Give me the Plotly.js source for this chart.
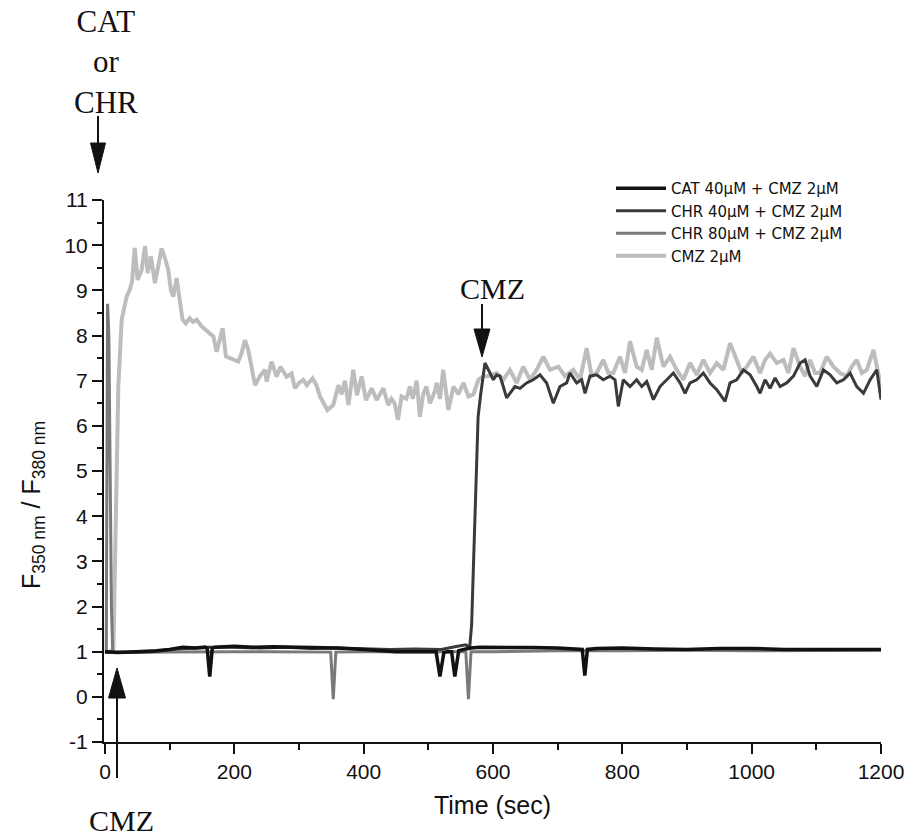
<!DOCTYPE html>
<html>
<head>
<meta charset="utf-8">
<script src="https://cdn.plot.ly/plotly-3.0.1.min.js"></script>
<style>
html,body{margin:0;padding:0;background:#fff;}
#chart{width:913px;height:839px;}
</style>
</head>
<body>
<div id="chart"></div>
<script>
// ---- Data ----
const seriesNames = ["CAT 40μM + CMZ 2μM", "CHR 40μM + CMZ 2μM", "CHR 80μM + CMZ 2μM", "CMZ 2μM"];

const catTime = [0, 20, 40, 60, 80, 100, 120, 140, 155, 158, 162, 166, 170, 200, 230, 260, 300, 330, 360, 400, 430, 450, 470, 490, 505, 512, 518, 524, 530, 536, 541, 547, 555, 565, 580, 600, 630, 660, 700, 730, 738, 742, 746, 760, 800, 850, 900, 950, 1000, 1050, 1100, 1150, 1200];
const catValue = [1.0, 0.98, 0.99, 1.0, 1.02, 1.05, 1.1, 1.08, 1.1, 1.08, 0.45, 1.08, 1.1, 1.12, 1.1, 1.11, 1.1, 1.09, 1.08, 1.05, 1.02, 1.0, 1.0, 1.0, 1.0, 1.0, 0.45, 0.98, 1.0, 1.0, 0.45, 1.02, 1.05, 1.08, 1.1, 1.1, 1.1, 1.09, 1.08, 1.06, 1.05, 0.47, 1.05, 1.07, 1.08, 1.06, 1.05, 1.07, 1.07, 1.05, 1.05, 1.06, 1.05];

const chr40Time = [0, 15, 40, 70, 100, 130, 160, 200, 240, 280, 320, 360, 400, 440, 480, 520, 545, 558, 564, 567, 570, 574, 577, 581, 585, 587.6, 595.4, 600.5, 605.6, 610.8, 615.9, 621.1, 626.2, 634, 641.7, 652, 662.3, 672.7, 683, 693.3, 703.6, 713.9, 719.1, 729.4, 737.1, 742.3, 750, 760.3, 770.6, 780.9, 788.7, 793.8, 801.5, 811.9, 822.2, 830, 837.7, 848, 858.3, 868.6, 879, 889.3, 897, 904.7, 915, 925.3, 935.7, 946, 958.9, 966.6, 976.9, 987.2, 997.5, 1007.9, 1013, 1020.7, 1028.5, 1036.2, 1043.9, 1054.2, 1064.6, 1074.9, 1082.6, 1090.4, 1100.7, 1111, 1121.3, 1131.6, 1141.9, 1152.2, 1162.5, 1172.9, 1183.2, 1193.5, 1200];
const chr40Value = [1.0, 0.98, 0.99, 1.0, 1.05, 1.08, 1.1, 1.1, 1.08, 1.1, 1.07, 1.08, 1.06, 1.05, 1.06, 1.05, 1.12, 1.15, 1.1, 1.6, 3.0, 4.9, 6.2, 6.7, 7.1, 7.39, 7.17, 7.02, 7.13, 7.1, 6.87, 6.62, 6.72, 6.87, 6.83, 6.95, 7.02, 7.13, 6.95, 6.5, 6.87, 6.95, 7.17, 6.95, 7.02, 6.72, 7.1, 7.13, 7.02, 7.1, 7.02, 6.43, 7.02, 6.87, 7.02, 6.87, 6.98, 6.58, 6.87, 7.02, 7.17, 6.95, 6.72, 6.95, 7.02, 7.17, 6.95, 6.8, 6.54, 6.95, 7.02, 7.24, 7.13, 6.87, 6.72, 7.02, 6.83, 7.06, 6.87, 6.95, 7.1, 7.39, 7.46, 7.1, 6.87, 7.24, 7.13, 6.95, 7.02, 7.17, 6.87, 6.72, 7.02, 7.24, 6.58];

const chr80Time = [0, 2, 4, 6, 8, 10, 12, 40, 100, 150, 200, 250, 300, 349, 353, 357, 400, 450, 500, 558, 562, 566, 600, 700, 800, 900, 1000, 1100, 1200];
const chr80Value = [1.0, 1.0, 8.7, 8.0, 5.0, 2.0, 1.0, 0.98, 0.99, 1.0, 1.0, 1.0, 1.0, 0.99, -0.05, 0.99, 1.0, 1.0, 1.0, 1.0, -0.05, 1.0, 1.0, 1.02, 1.02, 1.03, 1.02, 1.03, 1.03];

const cmzTime = [0, 8, 13, 16.5, 20.6, 25.8, 33.5, 38, 42, 46, 50.5, 56.7, 62, 66, 71, 77.3, 82, 87.6, 93, 97.9, 102, 105.6, 110.8, 116, 120, 125, 131, 136, 141.8, 149.5, 157, 163, 167.6, 172.7, 178, 182, 187, 193, 198.5, 206, 211, 216.5, 221.6, 227, 232, 239.7, 247.4, 250, 257.7, 265.4, 271.5, 280.8, 288.5, 293.8, 300, 306.6, 312, 321, 327, 332.5, 338, 344, 353, 361, 366, 371, 376.5, 384, 389.5, 397, 403.6, 412.5, 420, 430.5, 438, 443, 448, 453, 458.6, 466, 471.6, 476, 482, 487, 492, 497, 502.6, 510, 513, 518, 523, 531, 539, 546.6, 554.4, 562, 569.8, 577.5, 585, 592.8, 605.6, 615.9, 626.2, 636.5, 646.8, 657.1, 667.5, 677.8, 688.1, 701, 711.3, 724.2, 734.5, 744.8, 752.6, 760.3, 770.6, 778.4, 786.1, 796.4, 804.2, 811.9, 822.2, 830, 837.7, 845.4, 853.2, 863.5, 873.8, 884.1, 894.4, 904.7, 915, 925.3, 935.7, 946, 956.3, 966.6, 976.9, 984.6, 992.4, 1002.7, 1013, 1020.7, 1028.5, 1038.8, 1049.1, 1056.8, 1064.6, 1074.9, 1082.6, 1090.4, 1098.1, 1105.8, 1116.1, 1126.4, 1136.7, 1147.1, 1154.8, 1162.5, 1170.3, 1178, 1188.3, 1196, 1200];
const cmzValue = [1.0, 1.0, 1.05, 3.9, 6.85, 8.35, 8.86, 9.0, 9.2, 9.94, 9.23, 9.45, 9.98, 9.38, 9.75, 9.16, 9.5, 9.93, 9.7, 9.45, 9.0, 8.86, 9.27, 8.78, 8.35, 8.27, 8.38, 8.3, 8.35, 8.2, 8.12, 8.05, 7.98, 7.64, 7.9, 8.16, 7.54, 7.5, 7.46, 7.42, 7.6, 7.9, 7.68, 7.3, 6.9, 7.1, 7.24, 6.98, 7.42, 7.09, 7.31, 7.09, 7.16, 6.83, 6.95, 7.02, 6.9, 7.05, 6.9, 6.65, 6.5, 6.35, 6.46, 6.9, 6.7, 7.0, 6.46, 7.24, 6.68, 7.09, 6.57, 6.83, 6.57, 6.83, 6.46, 6.6, 6.5, 6.13, 6.65, 6.6, 6.87, 6.6, 7.0, 6.2, 6.7, 6.87, 6.5, 6.76, 6.95, 6.6, 7.24, 6.35, 6.87, 6.7, 6.95, 6.65, 6.7, 7.02, 7.1, 7.1, 7.17, 7.02, 7.24, 6.95, 7.31, 7.02, 7.24, 7.53, 7.24, 7.31, 7.1, 7.24, 7.02, 7.72, 7.1, 7.17, 7.46, 7.17, 7.17, 7.53, 7.17, 7.87, 7.31, 7.24, 7.68, 7.24, 7.95, 7.31, 7.53, 7.24, 7.02, 7.39, 7.13, 7.46, 7.17, 7.39, 7.24, 7.83, 7.46, 7.17, 7.31, 7.53, 7.17, 7.46, 7.6, 7.39, 7.46, 7.17, 7.72, 7.31, 7.1, 7.46, 7.17, 7.17, 7.53, 7.31, 7.17, 7.1, 7.31, 7.46, 7.17, 7.24, 7.68, 7.1, 6.87];

const xTickVals = [0, 200, 400, 600, 800, 1000, 1200];
const yTickVals = [-1, 0, 1, 2, 3, 4, 5, 6, 7, 8, 9, 10, 11];

// ---- Layout geometry (pixels) ----
const W = 913, H = 839;
const M = {l: 104, r: 32, t: 200, b: 97};
const PW = W - M.l - M.r, PH = H - M.t - M.b;
const px = x => (x - M.l) / PW;
const py = y => (H - M.b - y) / PH;

const sans = "Liberation Sans, Arial, sans-serif";
const serif = "Liberation Serif, Times New Roman, serif";

const traces = [
  {x: cmzTime, y: cmzValue, name: seriesNames[3], mode: "lines", line: {color: "#bdbdbd", width: 4}},
  {x: chr80Time, y: chr80Value, name: seriesNames[2], mode: "lines", line: {color: "#7a7a7a", width: 3}},
  {x: chr40Time, y: chr40Value, name: seriesNames[1], mode: "lines", line: {color: "#3a3a3a", width: 3}},
  {x: catTime, y: catValue, name: seriesNames[0], mode: "lines", line: {color: "#111111", width: 3.5}}
];

function downArrow(x, yTop, yTip, headLen, headHalf) {
  return [
    {type: "line", xref: "paper", yref: "paper", x0: px(x), x1: px(x), y0: py(yTop), y1: py(yTip - headLen + 2), line: {color: "#111", width: 2}},
    {type: "path", xref: "paper", yref: "paper", fillcolor: "#111", line: {color: "#111", width: 1},
     path: `M ${px(x)} ${py(yTip)} L ${px(x - headHalf)} ${py(yTip - headLen)} L ${px(x + headHalf)} ${py(yTip - headLen)} Z`}
  ];
}
function upArrow(x, yBottom, yTip, headLen, headHalf) {
  return [
    {type: "line", xref: "paper", yref: "paper", x0: px(x), x1: px(x), y0: py(yBottom), y1: py(yTip + headLen - 2), line: {color: "#111", width: 2}},
    {type: "path", xref: "paper", yref: "paper", fillcolor: "#111", line: {color: "#111", width: 1},
     path: `M ${px(x)} ${py(yTip)} L ${px(x - headHalf)} ${py(yTip + headLen)} L ${px(x + headHalf)} ${py(yTip + headLen)} Z`}
  ];
}

const shapes = [].concat(
  downArrow(98, 116, 173, 30, 7.5),
  downArrow(482, 304, 357, 28, 8),
  upArrow(117, 778, 668, 30, 8.5)
);

const annotations = [
  {xref: "paper", yref: "paper", x: px(105.5), y: py(62), xanchor: "center", yanchor: "middle", showarrow: false,
   text: "CAT<br>or<br>CHR", font: {family: serif, size: 31, color: "#111"}},
  {xref: "paper", yref: "paper", x: px(492.5), y: py(288), xanchor: "center", yanchor: "middle", showarrow: false,
   text: "CMZ", font: {family: serif, size: 30, color: "#111"}},
  {xref: "paper", yref: "paper", x: px(121.5), y: py(820), xanchor: "center", yanchor: "middle", showarrow: false,
   text: "CMZ", font: {family: serif, size: 30, color: "#111"}},
  {xref: "paper", yref: "paper", x: px(33), y: py(505), xanchor: "center", yanchor: "middle", showarrow: false, textangle: -90,
   text: "F<sub>350 nm</sub> / F<sub>380 nm</sub>", font: {family: sans, size: 25, color: "#111"}}
];

const layout = {
  width: W, height: H,
  margin: M,
  paper_bgcolor: "#fff", plot_bgcolor: "#fff",
  showlegend: true,
  legend: {x: px(611), y: py(172), xanchor: "left", yanchor: "top", traceorder: "reversed",
           font: {family: "DejaVu Sans, " + sans, size: 15, color: "#111"}, bgcolor: "rgba(0,0,0,0)", itemwidth: 50, tracegroupgap: 0},
  xaxis: {
    range: [-1.5, 1200], showgrid: false, zeroline: false,
    showline: true, linecolor: "#111", linewidth: 2,
    ticks: "outside", ticklen: 10, tickwidth: 2, tickcolor: "#111",
    tickvals: xTickVals, ticktext: xTickVals.map(String),
    tickfont: {family: sans, size: 21, color: "#111"},
    minor: {dtick: 100, tick0: 0, ticks: "outside", ticklen: 6, tickwidth: 2, tickcolor: "#111"},
    title: {text: "Time (sec)", font: {family: sans, size: 25, color: "#111"}, standoff: 14}
  },
  yaxis: {
    range: [-1, 11], showgrid: false, zeroline: false,
    showline: true, linecolor: "#111", linewidth: 2,
    ticks: "outside", ticklen: 10, tickwidth: 2, tickcolor: "#111",
    tickvals: yTickVals, ticktext: yTickVals.map(String),
    tickfont: {family: sans, size: 21, color: "#111"},
    minor: {dtick: 0.5, tick0: 0, ticks: "outside", ticklen: 5, tickwidth: 2, tickcolor: "#111"}
  },
  shapes: shapes,
  annotations: annotations
};

Plotly.newPlot("chart", traces, layout, {displayModeBar: false, staticPlot: true});
</script>
</body>
</html>
